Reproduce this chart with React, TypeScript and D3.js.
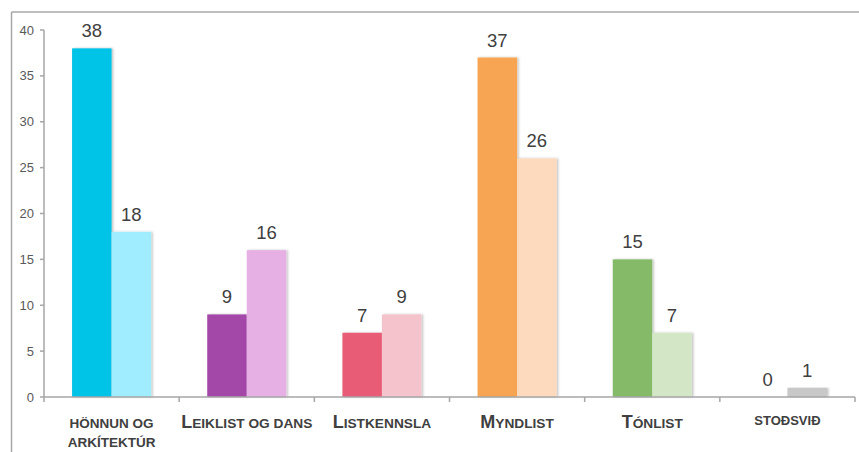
import React from "react";
import * as d3 from "d3";

const categories = ["Hönnun og arkítektúr", "Leiklist og dans", "Listkennsla", "Myndlist", "Tónlist", "Stoðsvið"];
const series1 = [38, 9, 7, 37, 15, 0];
const series2 = [18, 16, 9, 26, 7, 1];
const darkColors = ["#00C3E8", "#A347A8", "#E85D75", "#F7A552", "#85BB68", "#A6A6A6"];
const lightColors = ["#A0EDFF", "#E6B0E5", "#F5C3CC", "#FDD9BD", "#D3E6C6", "#C8C8C8"];
const yTicks = [0, 5, 10, 15, 20, 25, 30, 35, 40];

const W = 859;
const H = 452;
const left = 44;
const right = 855;
const top = 30;
const bottom = 397;

const textColor = "#404040";
const axisColor = "#A6A6A6";

function CatLabel({ i, x }: { i: number; x: number }) {
  const style = { fontFamily: "Liberation Sans, Arial, sans-serif", fontWeight: 700, fill: textColor } as const;
  if (i === 0) {
    return (
      <text x={x} textAnchor="middle" style={style} fontSize={13.5}>
        <tspan x={x} y={428}>HÖNNUN OG</tspan>
        <tspan x={x} y={447}>ARKÍTEKTÚR</tspan>
      </text>
    );
  }
  if (i === 5) {
    return (
      <text x={x} y={425} textAnchor="middle" style={style} fontSize={13}>
        STOÐSVIÐ
      </text>
    );
  }
  const name = categories[i];
  const first = name[0].toUpperCase();
  const rest = name.slice(1).toUpperCase();
  return (
    <text x={x} y={428} textAnchor="middle" style={style}>
      <tspan fontSize={18}>{first}</tspan>
      <tspan fontSize={13.7}>{rest}</tspan>
    </text>
  );
}

export default function App() {
  const x0 = d3.scaleBand<number>().domain(d3.range(categories.length)).range([left, right]).paddingInner(0).paddingOuter(0);
  const groupW = 79;
  const x1 = d3.scaleBand<number>().domain([0, 1]).range([0, groupW]);
  const y = d3.scaleLinear().domain([0, 40]).range([bottom, top]);
  const bw = x0.bandwidth();

  const bars: { v: number; cat: number; s: number }[] = [];
  categories.forEach((_, i) => {
    bars.push({ v: series1[i], cat: i, s: 0 });
    bars.push({ v: series2[i], cat: i, s: 1 });
  });

  return (
    <svg width={W} height={H} style={{ position: "absolute", left: 0, top: 0, background: "#fff" }}>
      <defs>
        <filter id="shadow" x="-20%" y="-5%" width="140%" height="110%">
          <feDropShadow dx={1.5} dy={0} stdDeviation={1} floodColor="#000" floodOpacity={0.25} />
        </filter>
      </defs>
      <rect x={0} y={0} width={W} height={H} fill="#fff" />
      {/* frame */}
      <line x1={11.5} y1={12} x2={W} y2={12} stroke="#A8A8A8" strokeWidth={1.5} />
      <line x1={11.5} y1={12} x2={11.5} y2={H} stroke="#A8A8A8" strokeWidth={1.5} />

      {/* bars */}
      {bars.map((b, k) => {
        if (b.v <= 0) return null;
        const bx = (x0(b.cat) as number) + (bw - groupW) / 2 + (x1(b.s) as number);
        return (
          <rect
            key={k}
            x={bx}
            y={y(b.v)}
            width={x1.bandwidth()}
            height={bottom - y(b.v)}
            fill={b.s === 0 ? darkColors[b.cat] : lightColors[b.cat]}
            filter="url(#shadow)"
          />
        );
      })}

      {/* axes */}
      <line x1={left} y1={top} x2={left} y2={bottom} stroke={axisColor} strokeWidth={1.5} />
      <line x1={left} y1={bottom} x2={right} y2={bottom} stroke={axisColor} strokeWidth={1.5} />
      {yTicks.map((t) => (
        <g key={t}>
          <line x1={left - 4} x2={left} y1={y(t)} y2={y(t)} stroke={axisColor} strokeWidth={1.5} />
          <text
            x={34}
            y={y(t)}
            dy="0.35em"
            textAnchor="end"
            fontSize={13}
            fontFamily="Liberation Sans, Arial, sans-serif"
            fill="#595959"
          >
            {t}
          </text>
        </g>
      ))}
      {d3.range(categories.length + 1).map((i) => {
        const tx = left + i * bw;
        return <line key={i} x1={tx} x2={tx} y1={bottom} y2={bottom + 5} stroke={axisColor} strokeWidth={1.5} />;
      })}

      {/* value labels */}
      {bars.map((b, k) => {
        const bx = (x0(b.cat) as number) + (bw - groupW) / 2 + (x1(b.s) as number) + x1.bandwidth() / 2;
        return (
          <text
            key={k}
            x={bx}
            y={y(b.v) - 11}
            textAnchor="middle"
            fontSize={18.5}
            fontFamily="Liberation Sans, Arial, sans-serif"
            fill={textColor}
          >
            {b.v}
          </text>
        );
      })}

      {/* category labels */}
      {categories.map((_, i) => (
        <CatLabel key={i} i={i} x={(x0(i) as number) + bw / 2} />
      ))}
    </svg>
  );
}
